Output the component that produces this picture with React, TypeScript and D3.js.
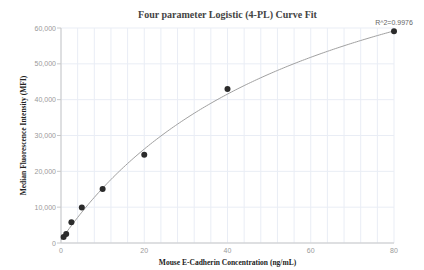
import React from "react";
import * as d3 from "d3";

// measured standards
const concentrations = [0.625, 1.25, 2.5, 5, 10, 20, 40, 80];
const mfiValues = [1700, 2500, 5800, 9900, 15100, 24600, 43000, 59100];

// 4PL fit parameters (a = response at zero, d = response at infinity)
const fitA = 800;
const fitB = 1;
const fitC = 61;
const fitD = 103700;
const rSquaredLabel = "R^2=0.9976";

const xTicks = [0, 20, 40, 60, 80];
const yTicks = [0, 10000, 20000, 30000, 40000, 50000, 60000];
const xGridStep = 4;

const W = 424;
const H = 270;
const margin = { top: 28, right: 30, bottom: 27, left: 61 };

function fourPL(x: number) {
  return fitD + (fitA - fitD) / (1 + Math.pow(x / fitC, fitB));
}

export default function App() {
  const x = d3
    .scaleLinear()
    .domain([0, 80])
    .range([margin.left, W - margin.right]);
  const y = d3
    .scaleLinear()
    .domain([0, 60000])
    .range([H - margin.bottom, margin.top]);

  const fmt = d3.format(",");
  const xGrid = d3.range(0, 80 + 0.001, xGridStep);
  const curveXs = d3.range(0, 80.001, 0.5);
  const line = d3
    .line<number>()
    .x((d) => x(d))
    .y((d) => y(fourPL(d)));

  const sans = "'Liberation Sans', Arial, sans-serif";
  const serif = "'Liberation Serif', 'Times New Roman', serif";
  const lastI = concentrations.length - 1;

  return (
    <svg
      width={W}
      height={H}
      style={{ position: "absolute", left: 0, top: 0, background: "#fff" }}
    >
      <g>
        {xGrid.map((t) => (
          <line
            key={"vx" + t}
            x1={x(t)}
            x2={x(t)}
            y1={y(60000)}
            y2={y(0)}
            stroke="#e9edf5"
            strokeWidth={1}
          />
        ))}
        {yTicks.map((t) => (
          <line
            key={"hy" + t}
            x1={x(0)}
            x2={x(80)}
            y1={y(t)}
            y2={y(t)}
            stroke="#e9edf5"
            strokeWidth={1}
          />
        ))}
      </g>
      {/* axes */}
      <line x1={x(0)} x2={x(0)} y1={y(60000)} y2={y(0)} stroke="#c8c8c8" />
      <line x1={x(0)} x2={x(80)} y1={y(0)} y2={y(0)} stroke="#c8c8c8" />
      {yTicks.map((t) => (
        <g key={"yt" + t}>
          <line x1={x(0) - 4} x2={x(0)} y1={y(t)} y2={y(t)} stroke="#c8c8c8" />
          <text
            x={x(0) - 5}
            y={y(t) + 2.5}
            textAnchor="end"
            fontFamily={sans}
            fontSize={7}
            fill="#999"
          >
            {fmt(t)}
          </text>
        </g>
      ))}
      {xTicks.map((t) => (
        <text
          key={"xt" + t}
          x={x(t)}
          y={y(0) + 10}
          textAnchor="middle"
          fontFamily={sans}
          fontSize={7}
          fill="#999"
        >
          {t}
        </text>
      ))}
      {/* fitted curve */}
      <path d={line(curveXs) || ""} fill="none" stroke="#a0a0a0" strokeWidth={1} />
      {concentrations.map((c, i) => (
        <circle key={"p" + i} cx={x(c)} cy={y(mfiValues[i])} r={3} fill="#2b2b2b" />
      ))}
      <text
        x={x(concentrations[lastI])}
        y={y(mfiValues[lastI]) - 6}
        textAnchor="middle"
        fontFamily={sans}
        fontSize={7}
        fill="#666"
      >
        {rSquaredLabel}
      </text>
      <text
        x={(x(0) + x(80)) / 2}
        y={18}
        textAnchor="middle"
        fontFamily={serif}
        fontWeight="bold"
        fontSize={10}
        fill="#444"
      >
        Four parameter Logistic (4-PL) Curve Fit
      </text>
      <text
        x={(x(0) + x(80)) / 2}
        y={265}
        textAnchor="middle"
        fontFamily={serif}
        fontWeight="bold"
        fontSize={7.5}
        fill="#222"
      >
        Mouse E-Cadherin Concentration (ng/mL)
      </text>
      <text
        transform={`translate(26, ${(y(0) + y(60000)) / 2}) rotate(-90)`}
        textAnchor="middle"
        fontFamily={serif}
        fontWeight="bold"
        fontSize={7.5}
        fill="#222"
      >
        Median Fluorescence Intensity (MFI)
      </text>
    </svg>
  );
}
